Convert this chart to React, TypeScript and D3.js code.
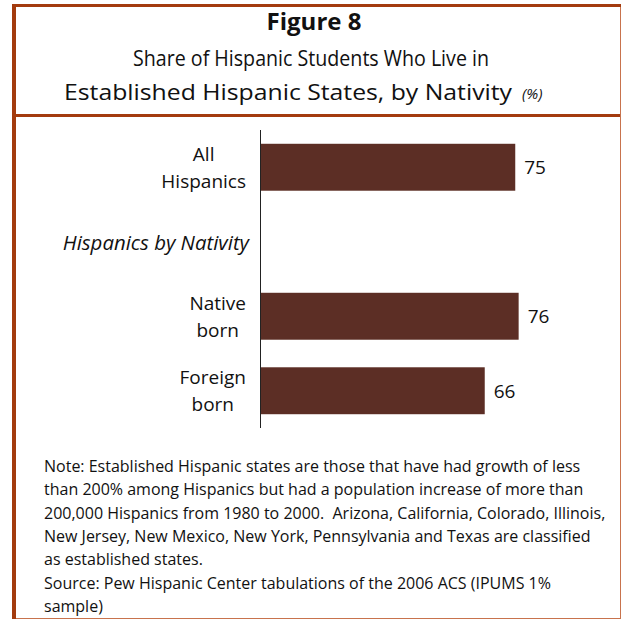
import { useEffect, useRef } from "react";
import * as d3 from "d3";

// chart data
const categories = ["All Hispanics", "Hispanics by Nativity", "Native born", "Foreign born"];
const categoryLines = [["All", "Hispanics"], ["Hispanics by Nativity"], ["Native", "born"], ["Foreign", "born"]];
const isHeading = [false, true, false, false];
const values: (number | null)[] = [75, null, 76, 66];

const figureLabel = "Figure 8";
const titleLine1 = "Share of Hispanic Students Who Live in";
const titleLine2 = "Established Hispanic States, by Nativity";
const unitLabel = "(%)";
const noteLines = [
  "Note: Established Hispanic states are those that have had growth of less",
  "than 200% among Hispanics but had a population increase of more than",
  "200,000 Hispanics from 1980 to 2000.  Arizona, California, Colorado, Illinois,",
  "New Jersey, New Mexico, New York, Pennsylvania and Texas are classified",
  "as established states.",
  "Source: Pew Hispanic Center tabulations of the 2006 ACS (IPUMS 1%",
  "sample)",
];

const FONT = "'Open Sans', 'Noto Sans', sans-serif";
const BAR = "#5C2E25";
const FRAME = "#A33B0E";
const FRAME_LIGHT = "#C8734D";

export default function App() {
  const ref = useRef<SVGSVGElement>(null);

  useEffect(() => {
    if (!ref.current) return;
    const svg = d3.select(ref.current);
    svg.selectAll("*").remove();

    const W = 621;
    const H = 619;
    svg.attr("width", W).attr("height", H).attr("viewBox", `0 0 ${W} ${H}`);

    svg.append("rect").attr("width", W).attr("height", H).attr("fill", "#fff");

    // Frame
    svg.append("line").attr("x1", 620.5).attr("x2", 620.5).attr("y1", 4).attr("y2", 619)
      .attr("stroke", FRAME_LIGHT).attr("stroke-width", 1);
    svg.append("line").attr("x1", 12).attr("x2", 621).attr("y1", 618.5).attr("y2", 618.5)
      .attr("stroke", FRAME_LIGHT).attr("stroke-width", 1);
    svg.append("line").attr("x1", 12).attr("x2", 621).attr("y1", 5.5).attr("y2", 5.5)
      .attr("stroke", FRAME).attr("stroke-width", 3);
    svg.append("line").attr("x1", 12).attr("x2", 620).attr("y1", 115.5).attr("y2", 115.5)
      .attr("stroke", FRAME).attr("stroke-width", 3);
    svg.append("line").attr("x1", 14).attr("x2", 14).attr("y1", 4).attr("y2", 619)
      .attr("stroke", FRAME).attr("stroke-width", 4);

    // Title
    svg.append("text")
      .attr("x", 314).attr("y", 30)
      .attr("text-anchor", "middle")
      .attr("font-family", FONT).attr("font-size", 24).attr("font-weight", 700)
      .attr("fill", "#111")
      .text(figureLabel);
    svg.append("text")
      .attr("x", 133).attr("y", 66)
      .attr("textLength", 356).attr("lengthAdjust", "spacingAndGlyphs")
      .attr("font-family", FONT).attr("font-size", 21.5)
      .attr("fill", "#111")
      .text(titleLine1);
    svg.append("text")
      .attr("x", 64).attr("y", 100)
      .attr("textLength", 448).attr("lengthAdjust", "spacingAndGlyphs")
      .attr("font-family", FONT).attr("font-size", 22.5)
      .attr("fill", "#111")
      .text(titleLine2);
    svg.append("text")
      .attr("x", 522).attr("y", 99)
      .attr("font-family", FONT).attr("font-size", 15).attr("font-style", "italic")
      .attr("fill", "#111")
      .text(unitLabel);

    // Scales
    const y = d3.scaleBand<string>()
      .domain(categories)
      .range([130, 428])
      .paddingInner(0.37)
      .paddingOuter(0.185);
    const x = d3.scaleLinear().domain([0, 100]).range([261, 600]);

    // Axis line
    svg.append("line")
      .attr("x1", 260.5).attr("x2", 260.5).attr("y1", 130).attr("y2", 428)
      .attr("stroke", "#222").attr("stroke-width", 1);

    // Bars
    categories.forEach((c, i) => {
      const v = values[i];
      if (v == null) return;
      svg.append("rect")
        .attr("x", x(0))
        .attr("y", y(c)!)
        .attr("width", x(v) - x(0))
        .attr("height", y.bandwidth())
        .attr("fill", BAR);
      svg.append("text")
        .attr("x", x(v) + 9)
        .attr("y", y(c)! + y.bandwidth() / 2)
        .attr("dominant-baseline", "central")
        .attr("font-family", FONT).attr("font-size", 19)
        .attr("fill", "#111")
        .text(String(v));
    });

    // Category labels
    const labelRight = 246;
    categories.forEach((c, i) => {
      const lines = categoryLines[i];
      const mid = y(c)! + y.bandwidth() / 2;
      const g = svg.append("g");
      const texts = lines.map((l, j) =>
        g.append("text")
          .attr("y", mid + (j - (lines.length - 1) / 2) * 27)
          .attr("dominant-baseline", "central")
          .attr("text-anchor", "middle")
          .attr("font-family", FONT)
          .attr("font-size", isHeading[i] ? 20.4 : 19)
          .attr("font-style", isHeading[i] ? "italic" : "normal")
          .attr("fill", "#111")
          .text(l)
      );
      const maxW = d3.max(texts, (t) => (t.node() as SVGTextElement).getComputedTextLength()) ?? 0;
      texts.forEach((t) => t.attr("x", (isHeading[i] ? labelRight + 3 : labelRight) - maxW / 2));
    });

    // Notes
    noteLines.forEach((t, i) => {
      svg.append("text")
        .attr("x", 44).attr("y", 472 + i * 23.3)
        .attr("font-family", FONT).attr("font-size", 16)
        .attr("fill", "#111")
        .style("white-space", "pre")
        .text(t);
    });
  }, []);

  return (
    <div style={{ position: "absolute", left: 0, top: 0 }}>
      <svg ref={ref} style={{ display: "block" }} />
    </div>
  );
}
